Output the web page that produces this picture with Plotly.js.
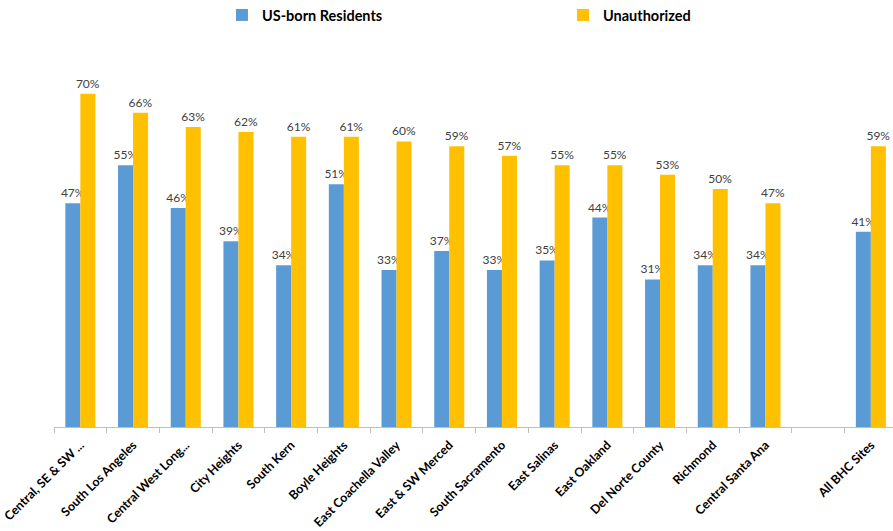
<!DOCTYPE html>
<html>
<head>
<meta charset="utf-8">
<script src="https://cdn.plot.ly/plotly-3.0.1.min.js"></script>
<style>html,body{margin:0;padding:0;background:#fff;}#chart{width:893px;height:531px;}</style>
</head>
<body>
<div id="chart"></div>
<script>
var categories = ["Central, SE & SW ...", "South Los Angeles", "Central West Long...", "City Heights", "South Kern", "Boyle Heights", "East Coachella Valley", "East & SW Merced", "South Sacramento", "East Salinas", "East Oakland", "Del Norte County", "Richmond", "Central Santa Ana", " ", "All BHC Sites"];
var usBorn = [0.47, 0.55, 0.46, 0.39, 0.34, 0.51, 0.33, 0.37, 0.33, 0.35, 0.44, 0.31, 0.34, 0.34, null, 0.41];
var unauthorized = [0.70, 0.66, 0.63, 0.62, 0.61, 0.61, 0.60, 0.59, 0.57, 0.55, 0.55, 0.53, 0.50, 0.47, null, 0.59];
var seriesNames = ["US-born Residents", "Unauthorized"];

var labelFont = {family: "Lato, 'Open Sans', sans-serif", size: 12, color: "#404040"};
var traces = [
  {type: "bar", name: seriesNames[0], x: categories, y: usBorn, marker: {color: "#5B9BD5"}, legend: "legend",
   texttemplate: "%{y:.0%}", textposition: "outside", constraintext: "none", textfont: labelFont, cliponaxis: false, hoverinfo: "x+y"},
  {type: "bar", name: seriesNames[1], x: categories, y: unauthorized, marker: {color: "#FFC000"}, legend: "legend2",
   texttemplate: "%{y:.0%}", textposition: "outside", constraintext: "none", textfont: labelFont, cliponaxis: false, hoverinfo: "x+y"}
];
var legendFont = {family: "Lato, 'Liberation Sans', sans-serif", size: 14.5, color: "#000000", weight: "bold"};
var layout = {
  width: 893, height: 531,
  margin: {l: 54, r: 0, t: 70, b: 104, autoexpand: false},
  paper_bgcolor: "#ffffff", plot_bgcolor: "#ffffff",
  barmode: "group", bargap: 0.43, bargroupgap: 0,
  showlegend: true,
  legend: {orientation: "h", x: 0.2002, xanchor: "left", y: 1.154, yanchor: "middle", font: legendFont},
  legend2: {orientation: "h", x: 0.6067, xanchor: "left", y: 1.154, yanchor: "middle", font: legendFont},
  xaxis: {type: "category", range: [-0.5, 15.42], showline: true, linecolor: "#bfbfbf", linewidth: 1,
          ticks: "outside", tickson: "boundaries", ticklen: 5, tickcolor: "#bfbfbf", tickangle: -45,
          ticklabelstandoff: 5,
          tickfont: {family: "Lato, 'Liberation Sans', sans-serif", size: 12.4, color: "#000000", weight: "bold"},
          showgrid: false, zeroline: false, fixedrange: true, automargin: false},
  yaxis: {range: [0, 0.75], visible: false, showgrid: false, zeroline: false, fixedrange: true}
};
Plotly.newPlot("chart", traces, layout, {displayModeBar: false, staticPlot: true});
</script>
</body>
</html>
